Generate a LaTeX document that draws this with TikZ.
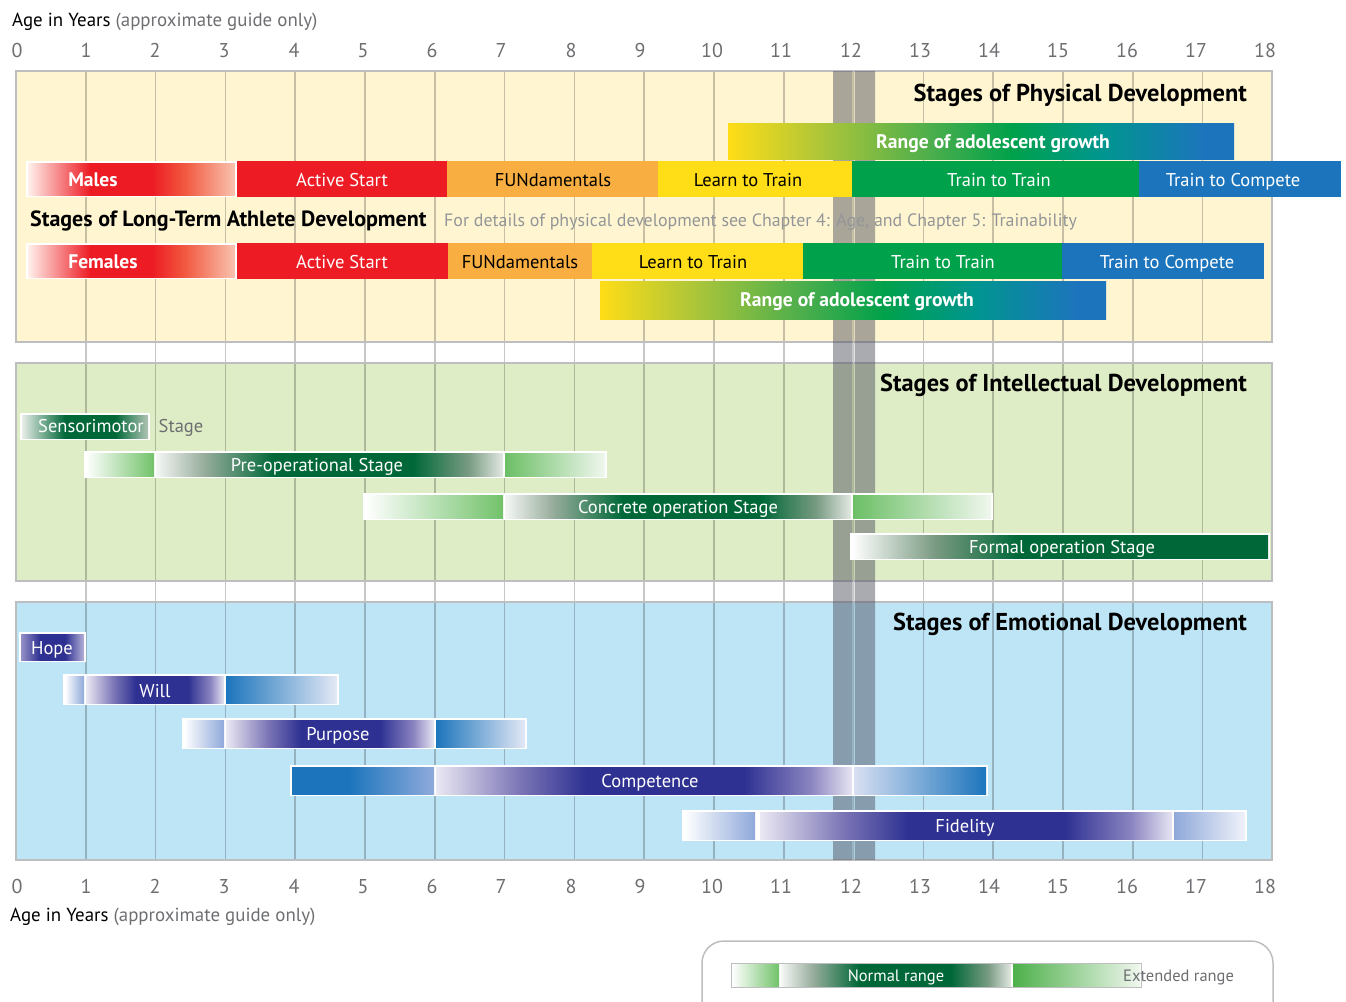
\documentclass[tikz,border=0pt]{standalone}
\usepackage{fontspec}
\setmainfont{PT Sans}
\usepackage{tikz}
\definecolor{xfff6d1}{HTML}{FFF6D1}
\definecolor{xdfedc6}{HTML}{DFEDC6}
\definecolor{xbee5f5}{HTML}{BEE5F5}
\definecolor{xbcbec0}{HTML}{BCBEC0}
\definecolor{x4a4a5a}{HTML}{4A4A5A}
\definecolor{xed1c24}{HTML}{ED1C24}
\definecolor{xf9ae41}{HTML}{F9AE41}
\definecolor{xffdd17}{HTML}{FFDD17}
\definecolor{x00a14b}{HTML}{00A14B}
\definecolor{x1c75bc}{HTML}{1C75BC}
\definecolor{x006838}{HTML}{006838}
\definecolor{x2e3192}{HTML}{2E3192}
\definecolor{x6d6e71}{HTML}{6D6E71}
\definecolor{x939598}{HTML}{939598}
\pgfdeclarehorizontalshading{growth}{100bp}{color(0bp)=(xffdd17); color(25bp)=(xffdd17); color(35bp)=(rgb,255:red,166;green,196;blue,59); color(45bp)=(rgb,255:red,76;green,174;blue,76); color(53bp)=(x00a14b); color(62bp)=(rgb,255:red,0;green,149;blue,143); color(72bp)=(x1c75bc); color(100bp)=(x1c75bc)}
\pgfdeclarehorizontalshading{redfade}{100bp}{color(0bp)=(rgb,255:red,255;green,240;blue,235); color(25bp)=(rgb,255:red,255;green,240;blue,235); color(40bp)=(xed1c24); color(55bp)=(xed1c24); color(63bp)=(rgb,255:red,241;green,90;blue,64); color(75bp)=(rgb,255:red,249;green,195;blue,176); color(100bp)=(rgb,255:red,249;green,195;blue,176)}
\pgfdeclarehorizontalshading{dkgreen}{100bp}{color(0bp)=(rgb,255:red,245;green,247;blue,245); color(25bp)=(rgb,255:red,245;green,247;blue,245); color(32bp)=(rgb,255:red,150;green,172;blue,155); color(42bp)=(x006838); color(62bp)=(x006838); color(70bp)=(rgb,255:red,120;green,155;blue,130); color(75bp)=(rgb,255:red,227;green,232;blue,227); color(100bp)=(rgb,255:red,227;green,232;blue,227)}
\pgfdeclarehorizontalshading{sensor}{100bp}{color(0bp)=(rgb,255:red,232;green,237;blue,232); color(25bp)=(rgb,255:red,232;green,237;blue,232); color(42bp)=(x006838); color(62bp)=(x006838); color(75bp)=(rgb,255:red,176;green,196;blue,180); color(100bp)=(rgb,255:red,176;green,196;blue,180)}
\pgfdeclarehorizontalshading{formal}{100bp}{color(0bp)=(white); color(25bp)=(white); color(35bp)=(rgb,255:red,122;green,154;blue,130); color(45bp)=(x006838); color(100bp)=(x006838)}
\pgfdeclarehorizontalshading{ltgreenin}{100bp}{color(0bp)=(white); color(25bp)=(white); color(75bp)=(rgb,255:red,114;green,194;blue,106); color(100bp)=(rgb,255:red,114;green,194;blue,106)}
\pgfdeclarehorizontalshading{ltgreenout}{100bp}{color(0bp)=(rgb,255:red,108;green,191;blue,102); color(25bp)=(rgb,255:red,108;green,191;blue,102); color(75bp)=(rgb,255:red,240;green,247;blue,238); color(100bp)=(rgb,255:red,240;green,247;blue,238)}
\pgfdeclarehorizontalshading{legendout}{100bp}{color(0bp)=(rgb,255:red,77;green,176;blue,74); color(25bp)=(rgb,255:red,77;green,176;blue,74); color(75bp)=(rgb,255:red,240;green,247;blue,238); color(100bp)=(rgb,255:red,240;green,247;blue,238)}
\pgfdeclarehorizontalshading{purple}{100bp}{color(0bp)=(rgb,255:red,234;green,232;blue,243); color(25bp)=(rgb,255:red,234;green,232;blue,243); color(35bp)=(rgb,255:red,124;green,118;blue,182); color(43bp)=(x2e3192); color(62bp)=(x2e3192); color(70bp)=(rgb,255:red,138;green,132;blue,192); color(75bp)=(rgb,255:red,230;green,228;blue,242); color(100bp)=(rgb,255:red,230;green,228;blue,242)}
\pgfdeclarehorizontalshading{hope}{100bp}{color(0bp)=(rgb,255:red,149;green,144;blue,198); color(25bp)=(rgb,255:red,149;green,144;blue,198); color(40bp)=(x2e3192); color(60bp)=(x2e3192); color(75bp)=(rgb,255:red,180;green,176;blue,216); color(100bp)=(rgb,255:red,180;green,176;blue,216)}
\pgfdeclarehorizontalshading{bluein}{100bp}{color(0bp)=(white); color(25bp)=(white); color(75bp)=(rgb,255:red,143;green,169;blue,218); color(100bp)=(rgb,255:red,143;green,169;blue,218)}
\pgfdeclarehorizontalshading{blueout}{100bp}{color(0bp)=(x1c75bc); color(25bp)=(x1c75bc); color(75bp)=(rgb,255:red,227;green,232;blue,245); color(100bp)=(rgb,255:red,227;green,232;blue,245)}
\pgfdeclarehorizontalshading{compin}{100bp}{color(0bp)=(x1c75bc); color(25bp)=(x1c75bc); color(45bp)=(x1c75bc); color(75bp)=(rgb,255:red,143;green,170;blue,220); color(100bp)=(rgb,255:red,143;green,170;blue,220)}
\pgfdeclarehorizontalshading{compout}{100bp}{color(0bp)=(rgb,255:red,216;green,223;blue,242); color(25bp)=(rgb,255:red,216;green,223;blue,242); color(75bp)=(x1c75bc); color(100bp)=(x1c75bc)}
\pgfdeclarehorizontalshading{fidout}{100bp}{color(0bp)=(rgb,255:red,143;green,169;blue,218); color(25bp)=(rgb,255:red,143;green,169;blue,218); color(75bp)=(rgb,255:red,240;green,242;blue,250); color(100bp)=(rgb,255:red,240;green,242;blue,250)}

\begin{document}
\begin{tikzpicture}[x=1pt,y=-1pt,line cap=butt,line join=miter,
  lbl/.style={anchor=base,inner sep=0pt,font=\fontsize{18.5}{22}\selectfont},
  bld/.style={anchor=base,inner sep=0pt,font=\fontsize{19.6}{23}\selectfont\bfseries,color=white},
  ttl/.style={anchor=base east,inner sep=0pt,font=\fontsize{24.4}{28}\selectfont\bfseries},
  num/.style={anchor=base,inner sep=0pt,font=\fontsize{20}{24}\selectfont,color=x6d6e71},
  axl/.style={anchor=base west,inner sep=0pt,font=\fontsize{18.9}{22}\selectfont}]
\useasboundingbox (0,0) rectangle (1346,1001);
% panels
\fill[color=xfff6d1] (16,71) rectangle (1272,342);
\fill[color=xdfedc6] (16,363) rectangle (1272,581);
\fill[color=xbee5f5] (16,602) rectangle (1272,860);
% grid of years
\draw[color=black,opacity=0.22,line width=1.6pt] (85.8,71)--(85.8,860) (155.6,71)--(155.6,860) (225.4,71)--(225.4,860) (295.2,71)--(295.2,860) (365,71)--(365,860) (434.8,71)--(434.8,860) (504.6,71)--(504.6,860) (574.4,71)--(574.4,860) (644.2,71)--(644.2,860) (714,71)--(714,860) (783.8,71)--(783.8,860) (853.6,71)--(853.6,860) (923.4,71)--(923.4,860) (993.2,71)--(993.2,860) (1063,71)--(1063,860) (1132.8,71)--(1132.8,860) (1202.6,71)--(1202.6,860);
\draw[color=xbcbec0,line width=2pt] (16,71) rectangle (1272,342);
\draw[color=xbcbec0,line width=2pt] (16,363) rectangle (1272,581);
\draw[color=xbcbec0,line width=2pt] (16,602) rectangle (1272,860);
% band round age 12
\fill[color=x4a4a5a,opacity=0.47] (833,71) rectangle (852.5,860) (854.6,71) rectangle (875,860);
% physical
\shade[shading=growth] (728,123) rectangle (1234,159);
\fill[color=white] (26,161) rectangle (237,197);
\shade[shading=redfade] (28,163) rectangle (235,195);
\fill[color=xed1c24] (237,161) rectangle (447,197);
\fill[color=xf9ae41] (447,161) rectangle (658,197);
\fill[color=xffdd17] (658,161) rectangle (852,197);
\fill[color=x00a14b] (852,161) rectangle (1139,197);
\fill[color=x1c75bc] (1139,161) rectangle (1341,197);
\fill[color=white] (26,243) rectangle (237,279);
\shade[shading=redfade] (28,245) rectangle (235,277);
\fill[color=xed1c24] (237,243) rectangle (448,279);
\fill[color=xf9ae41] (448,243) rectangle (592,279);
\fill[color=xffdd17] (592,243) rectangle (803,279);
\fill[color=x00a14b] (803,243) rectangle (1062,279);
\fill[color=x1c75bc] (1062,243) rectangle (1264,279);
\shade[shading=growth] (600,281) rectangle (1106,319);
\node[ttl] (physt) at (1247,101) {Stages of Physical Development};
\node[bld] (grow1) at (993,148) {Range of adolescent growth};
\node[bld] (males) at (93,186) {Males};
\node[lbl,color=white] (as1) at (342,186) {Active Start};
\node[lbl] (fun1) at (553,186) {FUNdamentals};
\node[lbl] (lt1) at (748,186) {Learn to Train};
\node[lbl,color=white] (tt1) at (999,186) {Train to Train};
\node[lbl,color=white] (tc1) at (1233,186) {Train to Compete};
\node[anchor=base west,inner sep=0pt,font=\fontsize{22}{26}\selectfont\bfseries] (ltad) at (30,226) {Stages of Long-Term Athlete Development};
\node[anchor=base west,inner sep=0pt,font=\fontsize{17.9}{21}\selectfont,color=x939598] (note) at (444,226) {For details of physical development see Chapter 4: Age, and Chapter 5: Trainability};
\node[bld] (females) at (103,268) {Females};
\node[lbl,color=white] (as2) at (342,268) {Active Start};
\node[lbl] (fun2) at (520,268) {FUNdamentals};
\node[lbl] (lt2) at (693,268) {Learn to Train};
\node[lbl,color=white] (tt2) at (943,268) {Train to Train};
\node[lbl,color=white] (tc2) at (1167,268) {Train to Compete};
\node[bld] (grow2) at (857,306) {Range of adolescent growth};
% intellectual
\fill[color=white] (20,413) rectangle (150,440);
\shade[shading=sensor] (22,415) rectangle (148,438);
\fill[color=white] (84,451) rectangle (607,478);
\shade[shading=ltgreenin] (86,453) rectangle (154,476);
\shade[shading=dkgreen] (156,453) rectangle (503,476);
\shade[shading=ltgreenout] (505,453) rectangle (605,476);
\fill[color=white] (363,493) rectangle (993,520);
\shade[shading=ltgreenin] (365,495) rectangle (503,518);
\shade[shading=dkgreen] (505,495) rectangle (851,518);
\shade[shading=ltgreenout] (853,495) rectangle (991,518);
\fill[color=white] (850,533) rectangle (1270,560);
\shade[shading=formal] (852,535) rectangle (1268,558);
\node[ttl] (intt) at (1247,391) {Stages of Intellectual Development};
\node[lbl,color=white] (sens) at (91,432) {Sensorimotor};
\node[lbl,color=x6d6e71] (sens2) at (181,432) {Stage};
\node[lbl,color=white] (preop) at (317,471) {Pre-operational Stage};
\node[lbl,color=white] (concr) at (678,513) {Concrete operation Stage};
\node[lbl,color=white] (formal) at (1062,553) {Formal operation Stage};
% emotional
\fill[color=white] (19,632) rectangle (86,662);
\shade[shading=hope] (21,634) rectangle (84,660);
\fill[color=white] (63,674) rectangle (339,705);
\shade[shading=bluein] (65,676) rectangle (84,703);
\shade[shading=purple] (86,676) rectangle (224,703);
\shade[shading=blueout] (226,676) rectangle (337,703);
\fill[color=white] (182,718) rectangle (527,749);
\shade[shading=bluein] (184,720) rectangle (224,747);
\shade[shading=purple] (226,720) rectangle (434,747);
\shade[shading=blueout] (436,720) rectangle (525,747);
\fill[color=white] (290,765) rectangle (988,796);
\shade[shading=compin] (292,767) rectangle (434,794);
\shade[shading=purple] (436,767) rectangle (852,794);
\shade[shading=compout] (854,767) rectangle (986,794);
\fill[color=white] (682,810) rectangle (1247,841);
\shade[shading=bluein] (684,812) rectangle (755,839);
\shade[shading=purple] (760,812) rectangle (1172,839);
\shade[shading=fidout] (1174,812) rectangle (1245,839);
\node[ttl] (emot) at (1247,630) {Stages of Emotional Development};
\node[lbl,color=white] (hope) at (52,654) {Hope};
\node[lbl,color=white] (will) at (155,697) {Will};
\node[lbl,color=white] (purp) at (338,740) {Purpose};
\node[lbl,color=white] (comp) at (650,787) {Competence};
\node[lbl,color=white] (fid) at (965,832) {Fidelity};
% axes
\node[axl] (agetop) at (12,27) {Age in Years \textcolor{x6d6e71}{(approximate guide only)}};
\node[axl] (agebot) at (10,921) {Age in Years \textcolor{x6d6e71}{(approximate guide only)}};
\node[num] (t0) at (17,57) {0};
\node[num] (t1) at (86,57) {1};
\node[num] (t2) at (155,57) {2};
\node[num] (t3) at (224,57) {3};
\node[num] (t4) at (294,57) {4};
\node[num] (t5) at (363,57) {5};
\node[num] (t6) at (432,57) {6};
\node[num] (t7) at (501,57) {7};
\node[num] (t8) at (571,57) {8};
\node[num] (t9) at (640,57) {9};
\node[num] (t10) at (712,57) {10};
\node[num] (t11) at (781,57) {11};
\node[num] (t12) at (851,57) {12};
\node[num] (t13) at (920,57) {13};
\node[num] (t14) at (989,57) {14};
\node[num] (t15) at (1058,57) {15};
\node[num] (t16) at (1127,57) {16};
\node[num] (t17) at (1196,57) {17};
\node[num] (t18) at (1265,57) {18};
\node[num] (b0) at (17,893) {0};
\node[num] (b1) at (86,893) {1};
\node[num] (b2) at (155,893) {2};
\node[num] (b3) at (224,893) {3};
\node[num] (b4) at (294,893) {4};
\node[num] (b5) at (363,893) {5};
\node[num] (b6) at (432,893) {6};
\node[num] (b7) at (501,893) {7};
\node[num] (b8) at (571,893) {8};
\node[num] (b9) at (640,893) {9};
\node[num] (b10) at (712,893) {10};
\node[num] (b11) at (781,893) {11};
\node[num] (b12) at (851,893) {12};
\node[num] (b13) at (920,893) {13};
\node[num] (b14) at (989,893) {14};
\node[num] (b15) at (1058,893) {15};
\node[num] (b16) at (1127,893) {16};
\node[num] (b17) at (1196,893) {17};
\node[num] (b18) at (1265,893) {18};
% legend
\draw[color=xbcbec0,line width=1.5pt,rounded corners=22pt] (702,941) rectangle (1273,1040);
\draw[color=xbcbec0,line width=1pt] (731,963) rectangle (1141,987);
\shade[shading=ltgreenin] (732,964) rectangle (779,986);
\shade[shading=dkgreen] (781,964) rectangle (1011,986);
\shade[shading=legendout] (1013,964) rectangle (1140,986);
\node[anchor=base,inner sep=0pt,font=\fontsize{16.5}{20}\selectfont,color=white] (norm) at (896,981) {Normal range};
\node[anchor=base west,inner sep=0pt,font=\fontsize{16.5}{20}\selectfont,color=x6d6e71] (ext) at (1123,981) {Extended range};
\end{tikzpicture}
\end{document}
